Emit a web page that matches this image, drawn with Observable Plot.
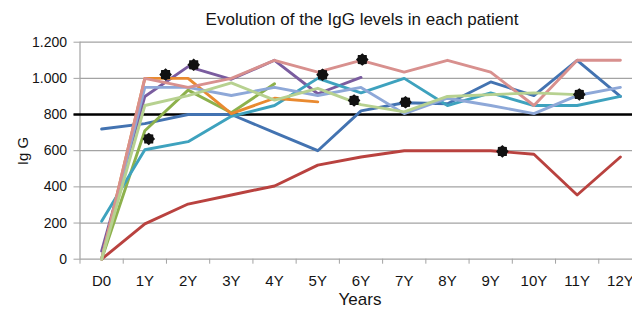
<!DOCTYPE html>
<html><head><meta charset="utf-8">
<script src="https://cdn.jsdelivr.net/npm/d3@7"></script>
<script src="https://cdn.jsdelivr.net/npm/@observablehq/plot@0.6"></script>
<style>
body{margin:0;background:#fff;font-family:"Liberation Sans",Arial,sans-serif;}
#wrap{position:relative;width:632px;height:309px;overflow:hidden;background:#fff;}
.lab{position:absolute;color:#141414;white-space:nowrap;line-height:1;}
</style></head><body>
<div id="wrap">
<div class="lab" style="left:362px;top:11px;font-size:17px;transform:translateX(-50%)">Evolution of the IgG levels in each patient</div>
<div class="lab" style="left:360px;top:291px;font-size:17px;transform:translateX(-50%)">Years</div>
<div class="lab" style="left:22px;top:151px;font-size:15px;transform:translate(-50%,-50%) rotate(-90deg)">Ig G</div>
</div>
<script>
const categories = ["D0","1Y","2Y","3Y","4Y","5Y","6Y","7Y","8Y","9Y","10Y","11Y","12Y"];
const yTicks = [0,200,400,600,800,1000,1200];
const yTickLabels = ["0","200","400","600","800","1.000","1.200"];
const threshold = 800;

const seriesNames  = ["P1","P2","P3","P4","P5","P6","P7","P8","P9"];
const seriesColors = ["#4373B1","#B9423F","#8DB14C","#7A5C9F","#3EA2BE","#E98A30","#8EA8D8","#D8908E","#B7D190"];
const p1 = [720, 750, 800, 800, 700, 600, 820, 865, 860, 980, 905, 1100, 900];
const p2 = [0, 195, 305, 355, 405, 520, 565, 600, 600, 600, 580, 355, 565];
const p3 = [0, 710, 935, 810, 970];
const p4 = [45, 900, 1065, 995, 1100, 915, 1005];
const p5 = [210, 605, 650, 790, 850, 1000, 920, 1000, 850, 920, 850, 850, 900];
const p6 = [0, 1000, 1000, 805, 890, 870];
const p7 = [0, 950, 950, 905, 950, 905, 950, 805, 890, 850, 805, 905, 950];
const p8 = [0, 1000, 950, 1000, 1100, 1035, 1100, 1035, 1100, 1035, 850, 1100, 1100];
const p9 = [0, 850, 905, 975, 880, 945, 855, 815, 900, 910, 920, 910];

const markerX = [1.09, 1.48, 2.13, 5.11, 5.84, 6.03, 7.03, 9.27, 11.05];
const markerY = [665, 1021, 1075, 1020, 878, 1104, 868, 596, 911];

const seriesValues = [p1, p2, p3, p4, p5, p6, p7, p8, p9];
const rows = [];
seriesValues.forEach((vals, s) => vals.forEach((v, i) => { if (v != null) rows.push({series: seriesNames[s], i, v}); }));
const markers = markerX.map((x, k) => ({x, y: markerY[k]}));

const splat = {
  draw(ctx, size) {
    const R = Math.sqrt(size / Math.PI), r = R * 0.8;
    for (let k = 0; k < 16; k++) {
      const a = k * Math.PI / 8 - Math.PI / 2, rr = k % 2 ? r : R;
      const px = rr * Math.cos(a), py = rr * Math.sin(a);
      if (k === 0) ctx.moveTo(px, py); else ctx.lineTo(px, py);
    }
    ctx.closePath();
  }
};

const idx = d3.range(categories.length);
const bounds = d3.range(categories.length + 1).map(k => k - 0.5);

const chart = Plot.plot({
  width: 632,
  height: 309,
  marginLeft: 79.5,
  marginRight: -9.5,
  marginTop: 41.7,
  marginBottom: 50.3,
  style: {fontFamily: "'Liberation Sans', Arial, sans-serif", fontSize: "14px", color: "#141414", background: "transparent", overflow: "hidden"},
  x: {type: "linear", domain: [-0.5, categories.length - 0.5]},
  y: {domain: [0, 1200]},
  color: {type: "ordinal", domain: seriesNames, range: seriesColors},
  marks: [
    Plot.gridY(yTicks, {stroke: "#a3a3a3", strokeOpacity: 1, strokeWidth: 1.2}),
    Plot.ruleX([-0.5], {stroke: "#a3a3a3", strokeWidth: 1.2}),
    Plot.axisY(yTicks, {tickFormat: d => yTickLabels[yTicks.indexOf(d)], tickSize: 6, tickPadding: 7, fontSize: 14, stroke: "#a3a3a3", label: null}),
    Plot.axisX(idx, {tickFormat: i => categories[i], tickSize: 0, tickPadding: 16, fontSize: 15, label: null}),
    Plot.axisX(bounds, {tickFormat: () => "", tickSize: 5, stroke: "#a3a3a3", label: null}),
    Plot.ruleY([threshold], {stroke: "#000", strokeWidth: 2.4, insetLeft: -6}),
    Plot.line(rows, {x: "i", y: "v", z: "series", stroke: "series", strokeWidth: 2.9, strokeLinejoin: "round"}),
    Plot.dot(markers, {x: "x", y: "y", r: 6.3, symbol: splat, fill: "#111", stroke: "none"})
  ]
});
document.getElementById("wrap").prepend(chart);
</script>
</body></html>
